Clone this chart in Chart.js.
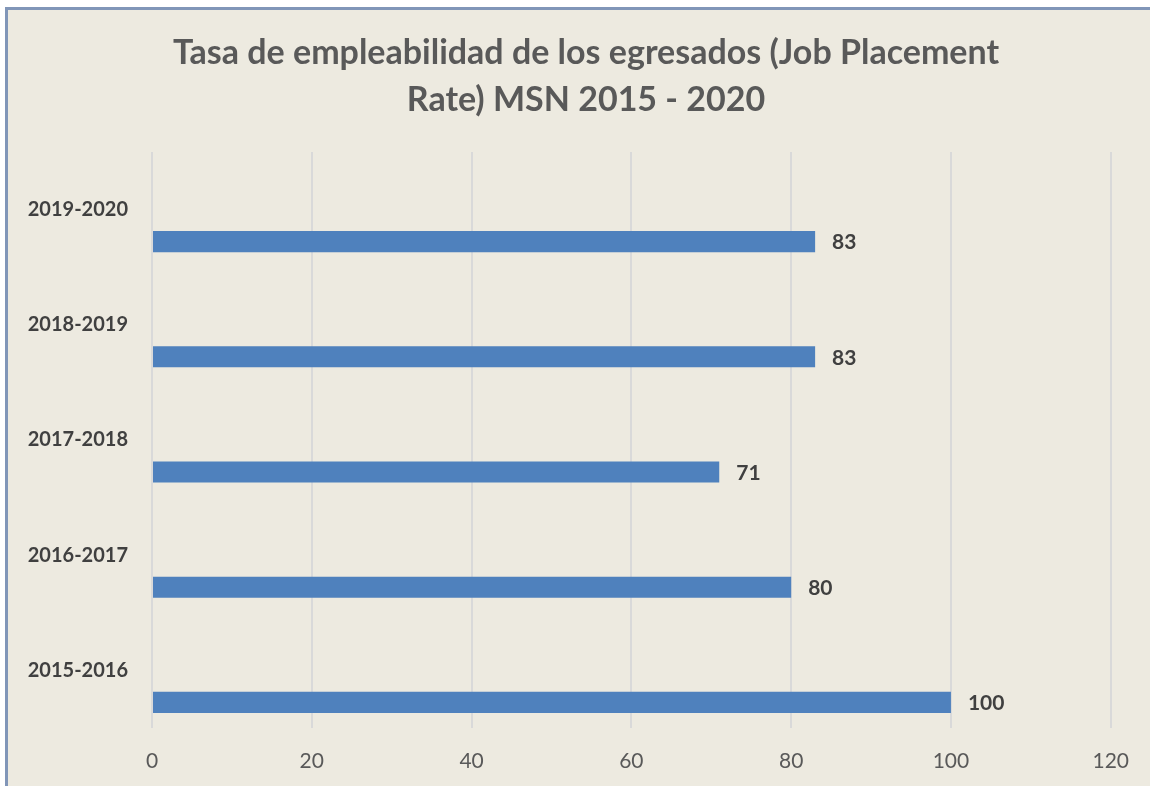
<!DOCTYPE html>
<html>
<head>
<meta charset="utf-8">
<script src="https://cdn.jsdelivr.net/npm/chart.js@4"></script>
<style>
  html, body { margin: 0; padding: 0; background: #ffffff; overflow: hidden; width: 1150px; height: 786px; }
  #frame {
    position: absolute; left: 5px; top: 7px;
    width: 1142px; height: 779px;
    border-left: 3px solid #8196b8; border-top: 3px solid #8196b8;
    background: #edeae0;
  }
  #chartBox { position: absolute; left: 0; top: 0; width: 1142px; height: 776px; }
</style>
</head>
<body>
<div id="frame"><div id="chartBox"><canvas id="placementChart"></canvas></div></div>
<script>
// data (top to bottom as drawn)
const periods = ["2019-2020", "2018-2019", "2017-2018", "2016-2017", "2015-2016"];
const placementRate = [83, 83, 71, 80, 100];
const emptySlot = [null, null, null, null, null];
const axisTicks = [0, 20, 40, 60, 80, 100, 120];
const titleLines = ["Tasa de empleabilidad de los egresados (Job Placement", "Rate) MSN 2015 - 2020"];

const textColor = "#595959";
const labelColor = "#404040";

// title drawn by hand so it can sit a bit right of the canvas centre like the original
const chartTitle = {
    id: "chartTitle",
    afterDraw(chart) {
        const ctx = chart.ctx;
        ctx.save();
        ctx.font = "bold 34px Lato";
        ctx.fillStyle = textColor;
        ctx.textAlign = "center";
        ctx.textBaseline = "middle";
        ctx.fillText(titleLines[0], 578, 43);
        ctx.fillText(titleLines[1], 578, 90);
        ctx.restore();
    }
};

// draws the value next to each bar end
const barValueLabels = {
    id: "barValueLabels",
    afterDatasetsDraw(chart) {
        const ctx = chart.ctx;
        const meta = chart.getDatasetMeta(1);
        ctx.save();
        ctx.font = "bold 21px Lato";
        ctx.fillStyle = labelColor;
        ctx.textAlign = "left";
        ctx.textBaseline = "middle";
        meta.data.forEach(function(bar, i) {
            ctx.fillText(String(placementRate[i]), bar.x + 17, bar.y + 1);
        });
        ctx.restore();
    }
};

const ctx = document.getElementById("placementChart");

new Chart(ctx, {
    type: "bar",
    data: {
        labels: periods,
        datasets: [
            { data: emptySlot, backgroundColor: "rgba(0,0,0,0)" },
            {
                data: placementRate,
                backgroundColor: "#4f81bd",
                borderWidth: 0,
                categoryPercentage: 1.111,
                barPercentage: 0.33
            }
        ]
    },
    options: {
        indexAxis: "y",
        responsive: true,
        maintainAspectRatio: false,
        animation: false,
        datasets: { bar: { categoryPercentage: 1.111, barPercentage: 0.33 } },
        layout: { padding: { left: 0, right: 39, top: 142, bottom: 0 } },
        plugins: {
            legend: { display: false },
            tooltip: { enabled: false },
            title: { display: false }
        },
        scales: {
            x: {
                min: 0,
                max: 120,
                afterBuildTicks: function(scale) {
                    scale.ticks = axisTicks.map(v => ({ value: v }));
                },
                afterFit: function(scale) { scale.height = 58; },
                grid: { color: "#d9d9d9", lineWidth: 2, drawTicks: false },
                border: { display: false },
                ticks: {
                    color: textColor,
                    padding: 21,
                    font: { family: "Lato", size: 21 }
                }
            },
            y: {
                afterFit: function(scale) { scale.width = 144; },
                grid: { display: false, drawTicks: false },
                border: { display: false },
                ticks: {
                    color: labelColor,
                    padding: 24,
                    font: { family: "Lato", size: 20, weight: "bold" }
                }
            }
        }
    },
    plugins: [barValueLabels, chartTitle]
});
</script>
</body>
</html>
